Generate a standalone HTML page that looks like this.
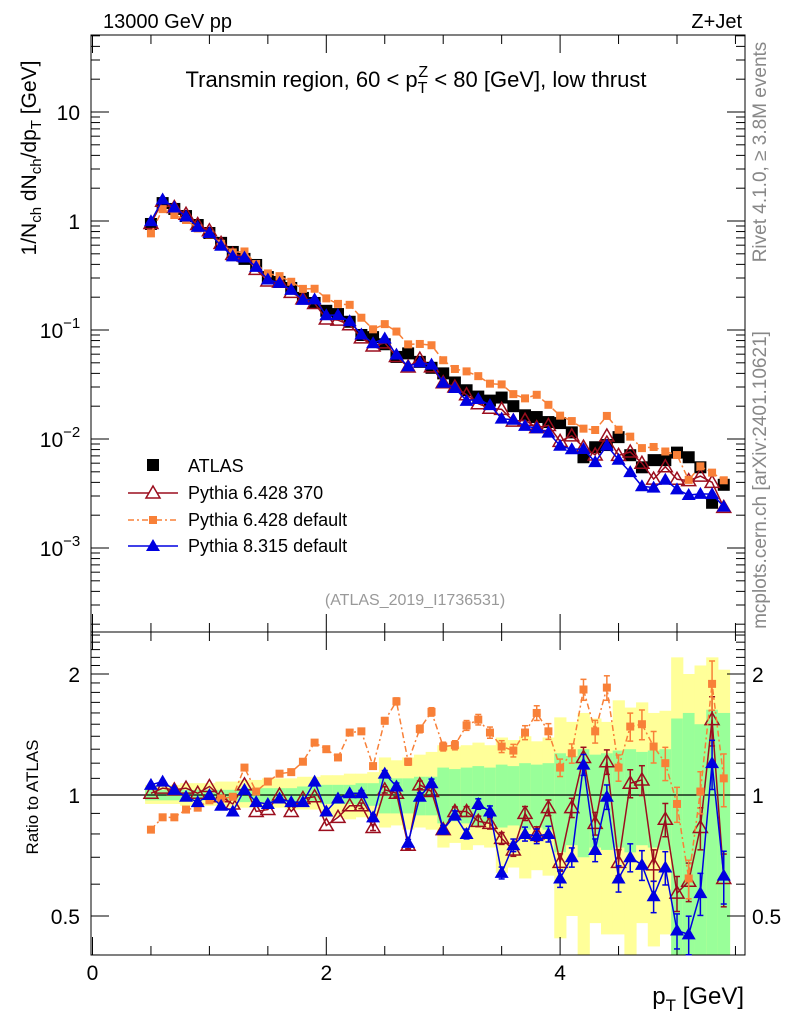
<!DOCTYPE html>
<html><head><meta charset="utf-8"><style>
html,body{margin:0;padding:0;background:#fff;}
svg{display:block;font-family:"Liberation Sans",sans-serif;}
</style></head><body>
<svg id="c" width="786" height="1024" viewBox="0 0 786 1024" xmlns="http://www.w3.org/2000/svg">
<g id="bands"></g>
<g id="grid"></g>
<g id="series"></g>
<text x="103" y="28" font-size="20">13000 GeV pp</text>
<text x="742" y="28" font-size="20" text-anchor="end">Z+Jet</text>
<text x="416" y="87" font-size="22" text-anchor="middle">Transmin region, 60 &lt; p<tspan font-size="16" dy="6">T</tspan><tspan font-size="16" dx="-9" dy="-16">Z</tspan><tspan dy="10"> &lt; 80 [GeV], low thrust</tspan></text>
<text transform="translate(36,158) rotate(-90)" font-size="21" text-anchor="middle">1/N<tspan font-size="15" dy="5">ch</tspan><tspan dy="-5"> dN</tspan><tspan font-size="15" dy="5">ch</tspan><tspan dy="-5">/dp</tspan><tspan font-size="15" dy="5">T</tspan><tspan dy="-5"> [GeV]</tspan></text>
<text transform="translate(766,152) rotate(-90)" font-size="19" fill="#888" text-anchor="middle">Rivet 4.1.0, ≥ 3.8M events</text>
<text transform="translate(766,480) rotate(-90)" font-size="19" fill="#888" text-anchor="middle">mcplots.cern.ch [arXiv:2401.10621]</text>
<text x="415" y="605" font-size="16" fill="#999" text-anchor="middle">(ATLAS_2019_I1736531)</text>
<text transform="translate(38,797) rotate(-90)" font-size="17" text-anchor="middle">Ratio to ATLAS</text>
<text x="744" y="1004" font-size="24" text-anchor="end">p<tspan font-size="17" dy="7">T</tspan><tspan dy="-7"> [GeV]</tspan></text>
<g>
 <rect x="147" y="459" width="12" height="12" fill="#000"/>
 <text x="188" y="472" font-size="18">ATLAS</text>
 <line x1="128" y1="493" x2="178" y2="493" stroke="#9b0e1e" stroke-width="1.5"/>
 <path d="M153,486 L160,498 L146,498 Z" fill="#fff" stroke="#9b0e1e" stroke-width="1.5"/>
 <text x="188" y="499" font-size="18">Pythia 6.428 370</text>
 <line x1="128" y1="520" x2="178" y2="520" stroke="#f88038" stroke-width="1.5" stroke-dasharray="6,3,2,3"/>
 <rect x="149" y="516" width="8" height="8" fill="#f88038"/>
 <text x="188" y="526" font-size="18">Pythia 6.428 default</text>
 <line x1="128" y1="546" x2="178" y2="546" stroke="#0000e0" stroke-width="1.5"/>
 <path d="M153,539 L160,551 L146,551 Z" fill="#0000e0"/>
 <text x="188" y="552" font-size="18">Pythia 8.315 default</text>
</g>
</svg>
<script>
const xVals=[0.5,0.6,0.7,0.8,0.9,1.0,1.1,1.2,1.3,1.4,1.5,1.6,1.7,1.8,1.9,2.0,2.1,2.2,2.3,2.4,2.5,2.6,2.7,2.8,2.9,3.0,3.1,3.2,3.3,3.4,3.5,3.6,3.7,3.8,3.9,4.0,4.1,4.2,4.3,4.4,4.5,4.6,4.7,4.8,4.9,5.0,5.1,5.2,5.3,5.4];
const atlas=[0.939,1.46,1.29,1.11,0.919,0.776,0.630,0.520,0.449,0.395,0.306,0.276,0.243,0.197,0.177,0.150,0.140,0.119,0.090,0.086,0.074,0.0566,0.061,0.051,0.045,0.040,0.033,0.028,0.0245,0.0225,0.024,0.020,0.0165,0.0159,0.0143,0.0140,0.0115,0.0068,0.0084,0.0088,0.0104,0.0071,0.0055,0.0064,0.0064,0.0075,0.0068,0.0055,0.0026,0.0038];
const ratioPy6_370=[1.01,1.04,1.03,1.04,1.01,1.05,0.99,0.95,1.06,0.91,0.92,1.00,0.91,0.98,0.99,0.84,0.88,0.94,0.94,0.83,1.03,1.01,0.75,1.06,1.02,0.82,0.91,0.91,0.86,0.85,0.78,0.73,0.90,0.80,0.93,0.68,0.93,1.24,0.85,1.21,0.68,1.07,1.09,0.67,0.87,0.57,0.61,0.83,1.54,0.62];
const ratioPy6_def=[0.82,0.88,0.88,0.92,0.93,0.97,0.98,0.99,1.17,1.02,1.08,1.13,1.14,1.21,1.35,1.30,1.24,1.43,1.44,1.18,1.53,1.71,1.21,1.46,1.61,1.32,1.33,1.49,1.54,1.43,1.32,1.29,1.43,1.60,1.44,1.17,1.27,1.83,1.44,1.85,1.17,1.48,1.50,1.32,1.20,0.95,0.62,1.02,1.89,1.10];
const ratioPy8=[1.06,1.08,1.03,0.99,0.96,1.00,0.94,0.91,1.03,0.96,0.95,0.98,0.96,0.96,1.08,0.91,0.98,1.01,1.01,0.88,1.13,1.05,0.76,0.99,1.07,0.82,0.89,0.80,0.95,0.91,0.64,0.75,0.80,0.79,0.80,0.62,0.70,1.19,0.73,0.99,0.62,0.70,0.67,0.56,0.66,0.46,0.45,0.57,1.20,0.63];
const mcErr=[0.01,0.01,0.01,0.01,0.01,0.01,0.01,0.01,0.01,0.01,0.01,0.01,0.01,0.012,0.012,0.013,0.014,0.015,0.016,0.017,0.018,0.02,0.02,0.022,0.024,0.025,0.026,0.028,0.03,0.032,0.034,0.036,0.04,0.042,0.045,0.05,0.055,0.06,0.065,0.07,0.075,0.08,0.085,0.09,0.095,0.1,0.11,0.12,0.14,0.15];
const greenHi=[1.03,1.03,1.03,1.03,1.03,1.03,1.03,1.03,1.04,1.04,1.04,1.04,1.04,1.05,1.05,1.06,1.06,1.06,1.07,1.07,1.10,1.10,1.10,1.11,1.11,1.17,1.16,1.17,1.18,1.17,1.19,1.18,1.20,1.19,1.20,1.27,1.25,1.30,1.26,1.27,1.29,1.30,1.28,1.29,1.30,1.55,1.60,1.50,1.63,1.60];
const greenLo=[0.97,0.97,0.97,0.97,0.97,0.97,0.97,0.97,0.96,0.96,0.96,0.96,0.96,0.96,0.96,0.95,0.95,0.95,0.94,0.94,0.90,0.90,0.90,0.89,0.89,0.85,0.86,0.85,0.84,0.85,0.83,0.84,0.82,0.83,0.82,0.72,0.75,0.70,0.74,0.73,0.74,0.72,0.75,0.74,0.73,0.40,0.38,0.40,0.35,0.40];
const yellowHi=[1.06,1.06,1.06,1.07,1.07,1.07,1.08,1.08,1.09,1.09,1.10,1.10,1.10,1.11,1.11,1.12,1.12,1.13,1.13,1.14,1.24,1.22,1.24,1.26,1.28,1.33,1.32,1.33,1.35,1.33,1.39,1.37,1.40,1.36,1.39,1.56,1.52,1.60,1.55,1.52,1.72,1.65,1.70,1.60,1.62,2.20,2.00,2.10,2.20,2.05];
const yellowLo=[0.95,0.95,0.95,0.94,0.94,0.94,0.94,0.93,0.93,0.93,0.93,0.93,0.92,0.92,0.92,0.88,0.88,0.87,0.88,0.87,0.83,0.84,0.82,0.83,0.82,0.74,0.76,0.73,0.75,0.74,0.64,0.66,0.62,0.65,0.63,0.44,0.50,0.40,0.48,0.45,0.45,0.40,0.48,0.42,0.45,0.35,0.35,0.35,0.35,0.35];

const NS='http://www.w3.org/2000/svg';
const L=91,R=745,T=35,MB=632,RB=955;
const X=v=>92.5+116.9*v;
const YM=v=>221-109*Math.log10(v);
const YR=r=>Math.min(RB,Math.max(MB,795-121*Math.log2(r)));
function mk(tag,attrs,parent){const e=document.createElementNS(NS,tag);for(const k in attrs)e.setAttribute(k,attrs[k]);parent.appendChild(e);return e;}
const svg=document.getElementById('c'),gB=document.getElementById('bands'),gG=document.getElementById('grid'),gS=document.getElementById('series');
const half=0.05;
xVals.forEach((x,i)=>{
  const x0=X(x-half),w=X(x+half)-X(x-half);
  let y1=YR(yellowHi[i]),y2=YR(yellowLo[i]);
  const r=mk('rect',{x:x0,y:y1,width:w+0.5,height:y2-y1,fill:'#ffff99'},gB);
  
  
  y1=YR(greenHi[i]);y2=YR(greenLo[i]);
  const g=mk('rect',{x:x0,y:y1,width:w+0.5,height:y2-y1,fill:'#99ff99'},gB);
  
  
});
mk('rect',{x:L,y:T,width:R-L,height:MB-T,fill:'none',stroke:'#000','stroke-width':1},gG);
mk('rect',{x:L,y:MB,width:R-L,height:RB-MB,fill:'none',stroke:'#000','stroke-width':1},gG);
mk('line',{x1:L,y1:795,x2:R,y2:795,stroke:'#000','stroke-width':1.2},gG);
for(let v=0;v<=5.5;v+=0.5){const px=X(v);const major=Math.abs(v-Math.round(v/2)*2)<1e-6;const len=major?18:9;
 [[MB,-1],[T,1],[RB,-1]].forEach(([y,d])=>mk('line',{x1:px,y1:y,x2:px,y2:y+d*len,stroke:'#000'},gG));
 mk('line',{x1:px,y1:MB,x2:px,y2:MB+len,stroke:'#000'},gG);
 if(major){const t=mk('text',{x:px,y:980,'font-size':21,'text-anchor':'middle'},svg);t.textContent=String(v);
  
  }
}
for(let e=-4;e<=1;e++){for(let m=1;m<=9;m++){const v=m*Math.pow(10,e);const py=YM(v);if(py<T||py>MB)continue;const len=m==1?18:9;
 mk('line',{x1:L,y1:py,x2:L+len,y2:py,stroke:'#000'},gG);mk('line',{x1:R,y1:py,x2:R-len,y2:py,stroke:'#000'},gG);}}
const yLabs=[[1,'10',''],[0,'1',''],[-1,'10','−1'],[-2,'10','−2'],[-3,'10','−3']];
yLabs.forEach(([e,b,s])=>{const py=YM(Math.pow(10,e));const t=mk('text',{x:s?60:80,y:py+8,'font-size':21,'text-anchor':s?'middle':'end'},svg);
 t.textContent=b;if(s){const ts=mk('tspan',{'font-size':15,dy:-10},t);ts.textContent=s;}
 
 });
[0.4,0.5,0.6,0.7,0.8,0.9,1,1.1,1.2,1.3,1.4,1.5,1.6,1.7,1.8,1.9,2,2.1,2.2,2.3,2.4,2.5].forEach(r=>{const py=795-121*Math.log2(r);if(py<MB||py>RB)return;
 const len=(r==0.5||r==1||r==2)?18:9;mk('line',{x1:L,y1:py,x2:L+len,y2:py,stroke:'#000'},gG);mk('line',{x1:R,y1:py,x2:R-len,y2:py,stroke:'#000'},gG);});
[[2,'2'],[1,'1'],[0.5,'0.5']].forEach(([r,s])=>{const py=YR(r)+8;
 const t=mk('text',{x:80,y:py,'font-size':21,'text-anchor':'end'},svg);t.textContent=s;
 
 
 const t2=mk('text',{x:752,y:py,'font-size':21},svg);t2.textContent=s;
 
 });
const series=[
 {name:'py6-370',ratio:ratioPy6_370,col:'#9b0e1e',dash:'',marker:'otri'},
 {name:'py6-default',ratio:ratioPy6_def,col:'#f88038',dash:'6,3,2,3',marker:'sq'},
 {name:'py8-default',ratio:ratioPy8,col:'#0000e0',dash:'',marker:'tri'}];
function marker(m,x,y,col,g){
 if(m==='sq')return mk('rect',{x:x-4,y:y-4,width:8,height:8,fill:col},g);
 const d=`M${x},${y-7} L${x+7},${y+5} L${x-7},${y+5} Z`;
 if(m==='tri')return mk('path',{d,fill:col},g);
 return mk('path',{d,fill:'none',stroke:col,'stroke-width':1.5},g);}
atlas.forEach((v,i)=>{const r=mk('rect',{x:X(xVals[i])-6,y:YM(v)-6,width:12,height:12,fill:'#000'},gS);
 
 });
series.forEach(s=>{
 const g=mk('g',{},gS);
 
 
 const mainPts=xVals.map((x,i)=>[X(x),YM(atlas[i]*s.ratio[i])]);
 const ratPts=xVals.map((x,i)=>[X(x),YR(s.ratio[i])]);
 [mainPts,ratPts].forEach((pts,k)=>{
  const pl=mk('polyline',{points:pts.map(p=>p.join(',')).join(' '),fill:'none',stroke:s.col,'stroke-width':1.5},g);
  if(s.dash)pl.setAttribute('stroke-dasharray',s.dash);
  
  
 });
 xVals.forEach((x,i)=>{
  const r=s.ratio[i],e=mcErr[i];
  if(e>0.015){const y1=YR(r*(1+e)),y2=YR(r*(1-e)),px=X(x);
   mk('line',{x1:px,y1:y1,x2:px,y2:y2,stroke:s.col,'stroke-width':1.5},g);
   mk('line',{x1:px-3,y1:y1,x2:px+3,y2:y1,stroke:s.col,'stroke-width':1.5},g);
   mk('line',{x1:px-3,y1:y2,x2:px+3,y2:y2,stroke:s.col,'stroke-width':1.5},g);}
  const m1=marker(s.marker,mainPts[i][0],mainPts[i][1],s.col,g);
  
  
  const ry=795-121*Math.log2(r);
  if(ry>=MB&&ry<=RB){const m2=marker(s.marker,ratPts[i][0],ratPts[i][1],s.col,g);
   
   }
 });
});
</script>
</body></html>
